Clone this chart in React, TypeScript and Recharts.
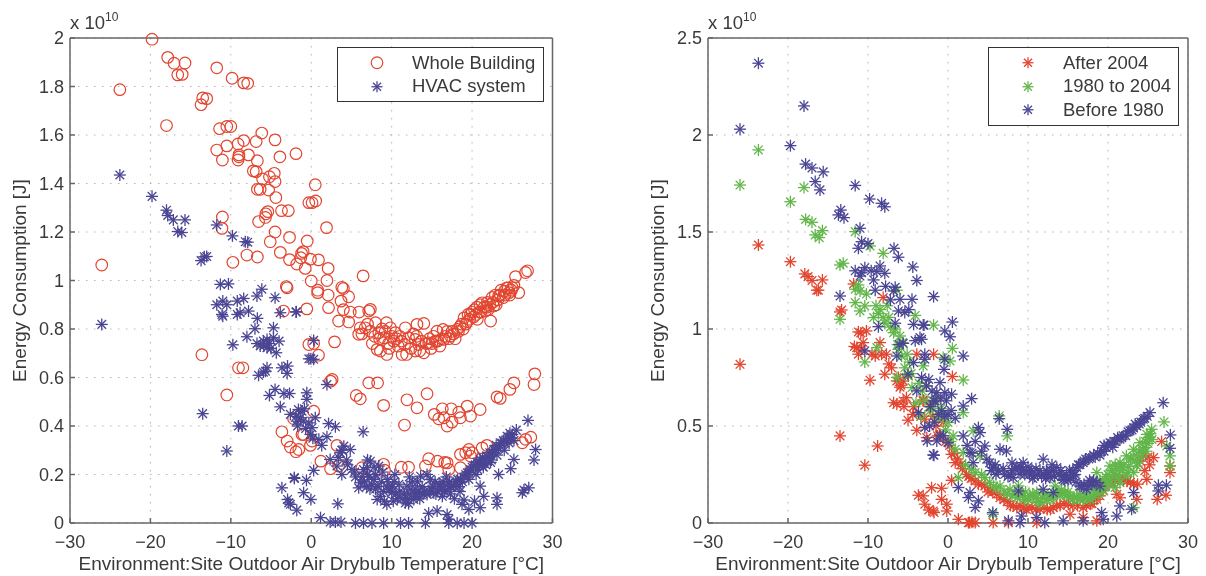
import { ScatterChart, Scatter, XAxis, YAxis, CartesianGrid, Legend } from "recharts";

// energy values are in units of 1e10 J, as on the axes. each point is [temperature, energy]
const xTicks = [-30, -20, -10, 0, 10, 20, 30];
const leftYTicks = [0, 0.2, 0.4, 0.6, 0.8, 1, 1.2, 1.4, 1.6, 1.8, 2];
const rightYTicks = [0, 0.5, 1, 1.5, 2, 2.5];
const xLabel = "Environment:Site Outdoor Air Drybulb Temperature [°C]";
const yLabel = "Energy Consumption [J]";

const wholeBuilding = [
  [-19.8,1.995],[-23.8,1.787],[-17.85,1.92],[-17.06,1.896],[-15.7,1.897],[-16.6,1.848],[-16.05,1.85],[-11.75,1.877],
  [-9.84,1.834],[-8.4,1.815],[-7.9,1.813],[-13.5,1.753],[-13,1.75],[-13.7,1.725],[-18,1.639],[-11.4,1.626],
  [-10.5,1.635],[-10,1.635],[-6.15,1.608],[-4.5,1.58],[-6.85,1.573],[-8.4,1.577],[-9.1,1.563],[-10.5,1.555],
  [-11.75,1.538],[-11.05,1.497],[-9,1.518],[-9,1.51],[-9.1,1.497],[-7.8,1.518],[-6.7,1.494],[-3.9,1.51],
  [-1.9,1.523],[-7.2,1.452],[-6.85,1.449],[-4.6,1.442],[-6.05,1.419],[-5.2,1.428],[-4.5,1.408],[-6.7,1.376],
  [-6.35,1.376],[-5.3,1.373],[-4.4,1.342],[-5.4,1.284],[-5.65,1.275],[-5.7,1.26],[-6.55,1.243],[-3.7,1.288],
  [-2.85,1.288],[-11.05,1.262],[-11.1,1.215],[-4.5,1.2],[-2.7,1.178],[-5.1,1.16],[-3.85,1.116],[-2.7,1.086],
  [-1.8,1.068],[-1.2,1.112],[-8,1.105],[-6.7,1.097],[-9.75,1.075],[-26.05,1.064],[-3,0.97],
  [0.5,1.395],[-0.3,1.321],[0.1,1.321],[0.55,1.328],[1.9,1.218],[-0.5,1.163],[-1,1.119],[-1.3,1.094],
  [-0.1,1.088],[0.9,1.085],[-0.75,1.05],[2.1,1.05],[0,0.998],[1.95,1],[3.8,0.972],[4,0.967],[6.45,1.019],[0.8,0.96],
  [26.9,1.04],[25.4,1.016],[26.65,1.033],[-3.1,0.975],
  // upper band
  [0.8,0.95],[2.1,0.94],[3.7,0.915],[4.65,0.933],[2.15,0.888],[4,0.88],[4.85,0.87],[5.95,0.87],[7.35,0.881],[7.15,0.874],
  [3.4,0.833],[4.65,0.829],[6.1,0.805],[5.9,0.778],[6.7,0.805],[8,0.826],[9.35,0.826],[9.85,0.805],[7.35,0.791],[8.4,0.785],
  [9,0.764],[10.25,0.75],[8.2,0.716],[8.6,0.709],[9.4,0.695],[11.7,0.805],[13.15,0.819],[14,0.823],[10.45,0.785],[12.1,0.764],
  [12.95,0.757],[11.3,0.695],[11.85,0.695],[12.95,0.709],[14,0.702],[11.6,0.736],[13.35,0.736],[14.6,0.743],[15.65,0.791],
  [16.4,0.798],[15.45,0.75],[16.5,0.757],[17.3,0.771],[18.15,0.798],[19,0.846],[19.8,0.86],[20.65,0.84],[21.25,0.908],
  [21.65,0.874],[22.3,0.833],[22.7,0.895],[23.3,0.936],[24,0.956],[24.6,0.95],[25.8,0.95],[7.9,0.77],[8.8,0.8],[9.6,0.74],
  [10.8,0.73],[11,0.77],[12.4,0.72],[13.7,0.75],[14.9,0.72],[15.2,0.77],[16,0.73],[16.9,0.79],[17.7,0.78],[18.5,0.81],
  [18.9,0.8],[19.4,0.83],[20,0.87],[20.3,0.88],[20.9,0.87],[21,0.9],[21.9,0.91],[22,0.88],[22.5,0.93],[23,0.9],[23.6,0.96],
  [23.9,0.93],[24.3,0.97],[24.9,0.96],[25.2,0.98],[7.6,0.74],[6.3,0.78],[10,0.77],[17.9,0.76],[20.6,0.89],[19.7,0.84],[22.9,0.94],
  [14.3,0.74],[14.7,0.76],[15,0.74],[15.7,0.75],[16.2,0.76],[16.7,0.77],[17.1,0.76],[17.5,0.79],[18.3,0.79],[18.7,0.82],[19.2,0.82],
  [19.5,0.86],[20.2,0.85],[20.5,0.86],[21.1,0.87],[21.5,0.89],[21.8,0.89],[22.2,0.9],[22.6,0.91],[23.2,0.92],[23.5,0.94],[24.1,0.94],
  [24.5,0.97],[24.7,0.94],[25,0.97],[9.2,0.79],[10.6,0.76],[11.2,0.75],[12.7,0.78],[13.1,0.77],[13.5,0.71],[8.5,0.76],[7,0.82],[9.7,0.72],
  // lower band
  [-0.55,0.883],[-0.3,0.736],[0.3,0.74],[0.9,0.692],[2.9,0.747],[2.6,0.592],[2.4,0.585],[7.15,0.578],[8.25,0.578],
  [5.6,0.526],[6.1,0.512],[9,0.485],[11.9,0.508],[13.15,0.475],[14.4,0.533],[11.6,0.404],[15.3,0.448],[16.3,0.471],
  [15.85,0.43],[16.5,0.434],[17.4,0.471],[16.9,0.4],[17.5,0.416],[18.35,0.457],[19.4,0.482],[18.55,0.434],[19.8,0.441],
  [21,0.468],[23.1,0.52],[23.5,0.514],[24.7,0.551],[25.2,0.578],[27.8,0.615],[27.7,0.571],[0.3,0.461],[-2.2,0.431],
  [-0.95,0.365],[-3.65,0.376],[-3,0.338],[-2.6,0.313],[-1.55,0.303],[-0.1,0.32],[0.1,0.338],[1.2,0.255],[2.4,0.224],
  [3.4,0.235],[3.2,0.32],[6.3,0.228],[9,0.242],[9.1,0.218],[11.2,0.23],[12.1,0.23],[14.2,0.235],[14.6,0.265],[15.7,0.255],
  [16.9,0.248],[17.1,0.221],[18.55,0.228],[18.55,0.283],[19.6,0.303],[19.8,0.276],[21.25,0.31],[21.85,0.32],[26.25,0.331],
  [27.3,0.354],[26.65,0.345],[-13.6,0.694],[-9.05,0.64],[-8.5,0.64],[-10.5,0.528],[-3.45,0.874],[-1.9,0.294],[-1.15,0.365],
  [16.6,0.25],[19.2,0.29],[20,0.29],
];

const hvacSystem = [
  [-23.8,1.435],[-19.8,1.347],[-18,1.29],[-17.85,1.268],[-17.15,1.25],[-15.7,1.25],[-16.6,1.202],[-16.1,1.198],[-11.75,1.229],
  [-9.8,1.184],[-8.2,1.16],[-7.9,1.158],[-13.3,1.098],[-13.7,1.082],[-13,1.099],[-11.3,0.984],[-10.3,0.986],[-6.15,0.964],
  [-26.05,0.819],[-13.5,0.451],[-10.5,0.297],[-9.05,0.4],[-8.6,0.4],[-9.75,0.735],[-11.75,0.9],[-11,0.915],[-10.5,0.9],
  [-11.1,0.86],[-11,0.853],[-9.2,0.915],[-8.4,0.926],[-9.2,0.86],[-8.85,0.867],[-7.8,0.874],[-6.75,0.936],[-4.5,0.929],
  [-3.85,0.867],[-1.9,0.87],[-6.7,0.844],[-7,0.801],[-4.7,0.805],[-8,0.768],[-6.75,0.74],[-5.95,0.75],[-5.5,0.757],[-4.7,0.764],
  [-6.35,0.73],[-5.5,0.723],[-4.35,0.702],[-6.55,0.609],[-5.95,0.622],[-5.5,0.64],[-5.7,0.626],[-3.65,0.64],[-2.95,0.647],
  [-3,0.617],[-5.2,0.526],[-4.5,0.551],[-3.4,0.534],[-2.7,0.534],[-3.85,0.479],[-2.6,0.448],[-1.6,0.468],[-1.8,0.42],
  [-2.1,0.184],[-3.65,0.145],[-2.95,0.097],[-2.6,0.077],[-1.8,0.053],
  [-1.85,0.871],[0.3,0.753],[-0.05,0.677],[-0.3,0.677],[0.3,0.675],[1.95,0.571],[-0.55,0.537],[-0.55,0.51],[-0.85,0.471],
  [-1.15,0.461],[-1.35,0.434],[0.5,0.434],[-0.3,0.413],[0.1,0.393],[2.15,0.41],[3,0.397],[6.45,0.376],[-0.1,0.365],[1.95,0.356],
  [0.95,0.345],[4.05,0.317],[4.85,0.303],[3.6,0.29],[2.35,0.262],[3.2,0.235],[3.8,0.2],[5.05,0.221],[7.35,0.255],[6.95,0.228],
  [8.4,0.235],[6.1,0.166],[5.9,0.145],[0.3,0.217],[-2.1,0.187],[-0.6,0.176],[-0.95,0.125],[-0.05,0.097],[-2.8,0.083],[3.3,0.079],
  [1.15,0.022],[2.35,0.004],[3,0.004],[3.7,0.004],[5.5,0],[6.5,0],[7.55,0],[9,0],[11.1,0],[12.1,0],[14.2,0],[17.1,0],[18.15,0],
  [19,0],[20,0],[16.9,0.035],[17.1,0.015],[14.6,0.04],[15.65,0.05],[19.6,0.056],[18.75,0.077],[21,0.063],[21.45,0.11],[23.1,0.104],
  [23.1,0.077],[21,0.152],[26.25,0.125],[27.05,0.145],[26.45,0.136],[27.7,0.26],[27.9,0.303],[25.2,0.262],[24.8,0.224],[23.3,0.2],
  [26.95,0.423],[25.5,0.383],
  // main band
  [8.6,0.11],[9.4,0.152],[9.4,0.077],[8.2,0.097],[10,0.125],[11.9,0.152],[11.7,0.083],[12.75,0.097],[13.6,0.193],[14.4,0.2],
  [13.15,0.11],[14.4,0.118],[15.25,0.125],[16.05,0.152],[16.9,0.138],[17.7,0.152],[18.55,0.18],[19.4,0.207],[20.2,0.235],[21,0.262],
  [21.85,0.276],[22.7,0.303],[23.5,0.331],[24.35,0.358],[25,0.365],[18.5,0.13],[19,0.095],[7,0.2],[7.5,0.16],[8,0.14],[9,0.13],
  [10.3,0.17],[10.7,0.1],[11,0.13],[12.3,0.12],[13,0.14],[13.9,0.12],[15,0.14],[15.7,0.13],[16.4,0.17],[17.2,0.17],[18,0.17],[19,0.19],
  [19.8,0.22],[20.6,0.25],[21.3,0.27],[22.2,0.29],[22.4,0.26],[23,0.32],[23.9,0.34],[24.6,0.33],[21.7,0.24],[20.7,0.22],[5.5,0.19],
  [6.3,0.19],[4.4,0.26],[12.6,0.17],[17.8,0.1],[16.3,0.11],[20.3,0.09],
  [6.6,0.17],[6.9,0.15],[7.2,0.19],[7.8,0.18],[8.3,0.15],[8.7,0.17],[9.1,0.09],[9.7,0.14],[10.1,0.15],[10.5,0.12],[11.3,0.1],[11.6,0.12],
  [12,0.1],[12.4,0.14],[12.9,0.12],[13.4,0.13],[13.8,0.15],[14.1,0.13],[14.7,0.13],[15.1,0.15],[15.5,0.12],[15.9,0.16],[16.2,0.14],[16.6,0.13],
  [17,0.16],[17.4,0.15],[17.9,0.16],[18.2,0.18],[18.8,0.17],[19.2,0.2],[19.6,0.21],[20,0.23],[20.4,0.24],[20.9,0.25],[21.1,0.24],[21.6,0.26],
  [22,0.27],[22.5,0.29],[22.9,0.3],[23.3,0.31],[23.7,0.33],[24.1,0.33],[24.5,0.35],[24.9,0.35],[-4,0.75],[-5.2,0.74],[-5.9,0.73],[-5,0.72],
  [-1,0.42],[-1.7,0.4],[-0.7,0.39],[0.2,0.35],[-1.9,0.44],[1.3,0.32],[3.8,0.3],[3.4,0.27],[4.5,0.24],[5.4,0.21],[7,0.26],[7.8,0.23],[8,0.2],
  [9.5,0.18],[10.4,0.2],[10.9,0.16],[12.2,0.19],[13.2,0.17],[14.8,0.18],[15.4,0.17],[16.8,0.19],[17.3,0.12],[18.4,0.15],[19.6,0.18],[20.5,0.2],
  [21.4,0.23],[22.3,0.25],[23.1,0.28],[24,0.3],[24.7,0.37],[25.2,0.34],[10.2,0.09],[12.1,0.08],[13.5,0.1],[6.5,0.22],[7.3,0.14],[8.9,0.21],
];

const after2004 = [
  [-23.7,1.433],[-19.7,1.347],[-17.9,1.284],[-17.5,1.27],[-17,1.25],[-15.7,1.253],[-16.4,1.2],[-11.8,1.232],[-16.2,1.2],[-8.1,1.162],
  [-13.3,1.098],[-13.5,1.088],[-26,0.818],[-13.5,0.449],[-10.4,0.298],[-8.8,0.397],[-11.2,0.985],[-10.2,0.99],[-11.4,0.904],
  [-10.8,0.896],[-11.2,0.87],[-9.1,0.861],[-8.5,0.93],[-7.7,0.87],[-7.05,0.8],[-7.9,0.767],[-9.75,0.736],[-6.4,0.732],[-5.6,0.732],
  [-4.95,0.758],[-6.4,0.612],[-5.6,0.629],[-5.2,0.646],[-3.1,0.634],[-5,0.53],[-2.9,0.535],[-3.9,0.478],[-3.9,0.87],[-1.8,0.87],
  [-2.05,0.182],[-3.7,0.143],[-2.9,0.097],[-2.4,0.067],[-1.75,0.054],[-1.3,0.449],[-2.65,0.44],[-0.8,0.179],[0.45,0.22],[0.55,0.755],
  [-3.1,0.629],[-1,0.457],[0.45,0.354],[0.9,0.311],[2.3,0.251],[3.4,0.217],[4.6,0.191],[6.1,0.148],[8.15,0.088],[9.4,0.079],[11.5,0.071],
  [13.15,0.079],[15.05,0.097],[16.9,0.079],[18.6,0.122],[20.25,0.208],[21.5,0.225],[23.2,0.2],[24.85,0.225],[24,0.32],[25.7,0.337],
  [24.4,0.346],[26.7,0.42],[27.75,0.294],[27.75,0.26],[27.25,0.143],[26.15,0.122],[21.1,0.148],[23.6,0.122],[-3.1,0.14],[-1.85,0.062],
  [-0.15,0.097],[-0.15,0.062],[-0.8,0.122],[1.3,0.019],[2.55,0.002],[3.4,0.002],[5.65,0.002],[7.55,0.002],[11.1,0.002],[15.25,0.045],
  [16.9,0.028],[18.6,0.011],[21.5,0.13],[2.7,0.002],[3,0.004],[7,0.12],[10,0.08],[12.4,0.07],[14,0.09],[17.8,0.1],[19.4,0.17],[20.8,0.22],
  [22.4,0.215],[1.6,0.3],[5.3,0.17],
  [-6,0.7],[-6.8,0.62],[-5.5,0.6],[-5.9,0.71],[-6.2,0.75],[-4.4,0.56],[-4.3,0.6],[-3.4,0.55],[-2.3,0.6],[-1.9,0.55],[-1.5,0.5],[-0.6,0.52],
  [-0.3,0.42],[0.2,0.4],[0.8,0.36],[1.2,0.33],[1.8,0.28],[2.6,0.24],[2.9,0.23],[3.8,0.2],[4.2,0.2],[5,0.16],[5.6,0.16],[6.5,0.13],[7.4,0.11],
  [7.8,0.09],[8.6,0.08],[9,0.09],[9.8,0.07],[10.5,0.08],[11,0.07],[12,0.08],[12.8,0.07],[13.6,0.09],[14.5,0.1],[15.6,0.09],[16.2,0.09],[17.3,0.09],
  [18,0.1],[18.3,0.12],[19,0.14],[19.7,0.19],[20.5,0.21],[21.2,0.22],[21.9,0.22],[22.8,0.21],[23.7,0.2],[24.6,0.27],[25.2,0.3],[25,0.34],
  [-8.3,0.87],[-9.5,0.87],[-7.4,0.82],[-10.6,0.93],[-11.7,0.91],[-10.9,0.98],
];

const from1980To2004 = [
  [-23.7,1.923],[-26,1.742],[-18,1.729],[-19.7,1.656],[-17.8,1.565],[-17,1.55],[-15.7,1.507],[-16.6,1.485],[-16.1,1.471],[-11.6,1.502],
  [-9.75,1.428],[-8.1,1.39],[-13.5,1.33],[-13.1,1.339],[-11.2,1.227],[-11.6,1.205],[-11,1.196],[-10.2,1.18],[-11.6,1.136],[-10.4,1.119],
  [-11,1.093],[-13.5,1.05],[-6.4,1.2],[-4.1,1.07],[-8.5,1.1],[-9.3,1.059],[-8.1,1.059],[-6.8,0.981],[-6,0.964],[-1.8,1.02],[-8.9,0.904],
  [-10.4,0.83],[-6.2,0.895],[-5.4,0.8],[-3.1,0.81],[-4.5,0.698],[-2.25,0.578],[-1.4,0.543],[-6.4,0.75],[0.55,0.9],[0.25,0.835],[1.9,0.737],
  [-0.6,0.853],[-2.7,0.707],[0,0.518],[1.9,0.569],[3.15,0.475],[6.4,0.552],[7.4,0.449],[-0.6,0.552],[0.65,0.449],[4,0.346],[1.9,0.363],
  [2.95,0.277],[4.6,0.234],[6.5,0.191],[7.75,0.174],[9,0.157],[10.25,0.14],[11.5,0.105],[12.75,0.122],[14,0.148],[15.25,0.14],[16.5,0.122],
  [17.75,0.122],[19.4,0.165],[20.25,0.294],[21.5,0.311],[22.3,0.346],[23.2,0.38],[24,0.414],[24.85,0.457],[25.45,0.483],[27,0.521],
  [27.75,0.346],[27.75,0.294],[27.35,0.397],[21.5,0.208],[23.2,0.26],[22.3,0.243],[23.6,0.294],[19.85,0.208],[18.6,0.26],[8.8,0.191],
  [11.1,0.157],[18.2,0.174],[13.4,0.191],[23.2,0.079],[20.9,0.183],[5.6,0.045],[1.3,0.234],[8,0.14],[9.6,0.12],[11,0.13],[12,0.15],[13.2,0.14],
  [14.6,0.16],[15.8,0.13],[17,0.13],[18.8,0.15],[19,0.22],[20,0.25],[21,0.28],[22.8,0.33],[24.3,0.38],[25,0.41],[-5,0.76],[-4,0.62],[-3.4,0.55],
  [-7.2,1.01],[-5.8,0.86],[-7.6,1.12],
  [-9,1.12],[-8.7,1.08],[-7.9,1.03],[-7.4,1.06],[-6.6,1],[-6.3,0.92],[-5.7,0.93],[-5.1,0.87],[-4.8,0.83],[-4.6,0.77],[-3.6,0.72],[-3.2,0.68],[-2.9,0.63],
  [-2,0.6],[-1.6,0.64],[-0.9,0.59],[-0.3,0.48],[0.3,0.42],[0.9,0.38],[2.2,0.3],[3.4,0.26],[4.2,0.25],[5.2,0.21],[5.7,0.19],[6.1,0.18],[7,0.16],[7.4,0.15],
  [8.4,0.15],[8.7,0.13],[9.3,0.14],[10,0.12],[10.7,0.13],[11.3,0.11],[12.3,0.12],[13,0.13],[13.7,0.15],[14.3,0.15],[14.9,0.14],[15.6,0.12],[16.1,0.13],
  [16.9,0.12],[17.4,0.13],[18.1,0.13],[18.9,0.17],[19.5,0.19],[20.3,0.22],[20.7,0.25],[21.1,0.25],[21.8,0.27],[22,0.3],[22.6,0.29],[23,0.33],[23.5,0.35],
  [23.9,0.37],[24.5,0.39],[24.7,0.42],[25.2,0.44],[25.3,0.46],[20.5,0.27],[21.7,0.29],
  [9.7,0.16],[10.6,0.15],[11.8,0.13],[12.5,0.14],[13.5,0.16],[14.2,0.17],[15,0.16],[16.4,0.15],[17.3,0.15],[18.4,0.16],[19.3,0.21],[20.1,0.2],[21.3,0.23],
  [22.5,0.26],[23.7,0.31],[24.2,0.34],[24.8,0.37],[25.5,0.43],[19.7,0.24],[20.9,0.3],
];

const before1980 = [
  [-23.7,2.37],[-26,2.03],[-18,2.15],[-19.7,1.945],[-17.8,1.85],[-17,1.83],[-15.6,1.81],[-16.6,1.76],[-16,1.717],[-11.6,1.74],[-9.8,1.67],
  [-8.3,1.648],[-7.9,1.63],[-13.4,1.613],[-13.7,1.588],[-13,1.574],[-11,1.519],[-11.2,1.416],[-10.8,1.45],[-10,1.44],[-6.75,1.416],[-6.2,1.37],
  [-4.4,1.32],[-3.9,1.25],[-11.6,1.3],[-10.4,1.316],[-11,1.273],[-8.5,1.325],[-8.9,1.296],[-7.9,1.287],[-9.3,1.253],[-6.6,1.215],[-13.5,1.17],
  [-1.8,1.167],[-9.1,1.2],[-6.8,1.196],[-6,1.153],[-4.5,1.153],[-6.2,1.093],[-5.4,1.085],[-8.7,1.012],[-6.6,1.03],[-4.3,1.024],[-3.1,1.02],
  [-3.5,0.956],[-5.6,0.926],[-2.9,0.87],[-6.4,0.861],[-10.4,0.887],[-4.3,0.827],[-5,0.767],[-2.7,0.706],[-3.9,0.681],[-1.8,0.629],[-1.4,0.672],
  [-3.7,0.569],[-2.9,0.492],[-2.6,0.423],[-1.4,0.423],[-1.75,0.349],[0.55,1.036],[-3,1.02],[-0.4,0.99],[0.25,0.96],[-3.3,0.947],[1.9,0.861],
  [-0.4,0.844],[-2.9,0.844],[-0.5,0.792],[-1,0.724],[-0.4,0.672],[0.45,0.664],[2.95,0.641],[-1.6,0.629],[1.9,0.603],[0,0.56],[-0.8,0.578],
  [6.4,0.538],[7.4,0.483],[3.8,0.492],[4,0.466],[1.9,0.449],[-1,0.449],[0,0.414],[-1.85,0.351],[4.6,0.397],[2.75,0.363],[6.5,0.38],[7.3,0.371],
  [4.85,0.329],[3.15,0.311],[5.65,0.285],[7.1,0.251],[8.15,0.234],[9.4,0.311],[9.8,0.268],[9,0.251],[11.9,0.329],[11.7,0.243],[13.6,0.286],
  [12.75,0.234],[14.4,0.225],[16.1,0.286],[15.7,0.243],[16.9,0.311],[16.5,0.191],[17.75,0.337],[17.3,0.174],[19.2,0.371],[18.6,0.208],
  [20.25,0.414],[21.5,0.432],[22.75,0.475],[23.6,0.5],[24.4,0.535],[25.25,0.569],[26.9,0.62],[27.8,0.454],[27.75,0.385],[2.75,0.157],[2.55,0.131],
  [3.8,0.114],[3.4,0.08],[1.3,0.183],[26.3,0.195],[27.3,0.195],[26.3,0.165],[23.2,0.157],[21.5,0.088],[22.95,0.071],[21.1,0.036],[19.2,0.054],
  [19.4,0.019],[16.9,0.011],[14.4,0.011],[12.1,0.002],[11.1,0.028],[9.2,0.036],[9,0.002],[7.55,0.011],[5.6,0.054],[8.8,0.165],[11.9,0.174],[13.15,0.157],
  [8,0.27],[8.6,0.29],[10.4,0.27],[12.3,0.27],[13,0.3],[14.8,0.25],[15.2,0.27],[16.5,0.3],[17.2,0.33],[18.2,0.35],[18.7,0.36],[19.8,0.39],
  [20.8,0.42],[21.9,0.45],[23,0.48],[24.1,0.52],[24.9,0.55],[17.9,0.2],[19,0.19],[18.2,0.22],[7.8,0.25],[10.8,0.24],
  [5.2,0.31],[5.9,0.3],[6.3,0.27],[6.9,0.28],[7.5,0.24],[8.4,0.28],[9.1,0.29],[9.6,0.25],[10,0.29],[10.6,0.23],[11.2,0.25],[11.5,0.27],[12,0.25],[12.5,0.26],
  [13.2,0.27],[13.3,0.24],[13.9,0.25],[14.1,0.27],[14.6,0.22],[15.3,0.23],[15.6,0.27],[16,0.21],[16.3,0.3],[16.7,0.19],[17,0.32],[17.5,0.19],[17.6,0.33],[18,0.21],
  [18.4,0.34],[19,0.35],[19.5,0.37],[20,0.4],[20.5,0.41],[21,0.42],[21.2,0.44],[21.7,0.44],[22.2,0.45],[22.5,0.47],[23.2,0.49],[23.4,0.51],[23.9,0.51],[24.6,0.54],
  [-2.2,0.6],[-2,0.68],[-2.4,0.74],[-0.9,0.64],[-0.2,0.63],[-1.2,0.56],[-0.4,0.55],[0.4,0.58],[0.9,0.54],[-1.7,0.52],[-2.3,0.5],[-0.6,0.45],
  [-7.8,1.22],[-7.2,1.15],[-10.8,1.29],[-9.6,1.3],[-4.9,1.1],[-4.1,0.94],[-3.3,0.75],[-6.1,0.92],[2.4,0.4],[3,0.36],[3.4,0.42],[4.2,0.37],
  [5.4,0.27],[6,0.25],[8,0.31],[9.2,0.27],[10.2,0.25],[11,0.28],[12.2,0.23],[12.9,0.27],[14.2,0.24],[15,0.22],[15.9,0.25],[17,0.2],[17.7,0.22],[19.5,0.4],[20.6,0.39],
];

const toPoints = (rows: number[][]) => rows.map(([t, e]) => ({ t, e }));

const BLUE = "#4a4593";
const RED = "#e2452f";
const GREEN = "#62b64a";
const TEXT = "#3a3a3a";
const AXIS = "#666";
const FONT = "'Liberation Sans', Arial, sans-serif";

function starLines(cx: number, cy: number, r: number, color: string) {
  const d = r * 0.72;
  return (
    <g stroke={color} strokeWidth={1.3} fill="none">
      <line x1={cx - r} y1={cy} x2={cx + r} y2={cy} />
      <line x1={cx} y1={cy - r} x2={cx} y2={cy + r} />
      <line x1={cx - d} y1={cy - d} x2={cx + d} y2={cy + d} />
      <line x1={cx - d} y1={cy + d} x2={cx + d} y2={cy - d} />
    </g>
  );
}

const starShape = (color: string) => (props: any) => starLines(props.cx, props.cy, 6, color);
const ringShape = (color: string) => (props: any) => (
  <circle cx={props.cx} cy={props.cy} r={5.8} fill="none" stroke={color} strokeWidth={1.2} />
);

const formatTick = (v: number) => (v < 0 ? `\u2212${Math.abs(v)}` : `${v}`);

function LegendBox({ items, rowHeight }: any) {
  return (
    <div style={{ border: "1.5px solid #333", background: "#fff", padding: "3px 0", boxSizing: "border-box", fontFamily: FONT }}>
      {items.map((item: any) => (
        <div key={item.name} style={{ display: "flex", alignItems: "center", height: rowHeight, fontSize: 18.5, color: TEXT }}>
          <svg width={74} height={rowHeight} style={{ flex: "none" }}>
            {item.ring ? (
              <circle cx={39} cy={rowHeight / 2} r={5.8} fill="none" stroke={item.color} strokeWidth={1.2} />
            ) : (
              starLines(39, rowHeight / 2, 5.5, item.color)
            )}
          </svg>
          <span>{item.name}</span>
        </div>
      ))}
    </div>
  );
}

function Panel({ left, width, yMax, yTicks, legend, children }: any) {
  const tickStyle = { fontSize: 18, fill: TEXT };
  return (
    <div style={{ position: "absolute", left, top: 0, width, height: 576 }}>
      <ScatterChart
        width={width}
        height={576}
        margin={{ top: 37, right: 17, bottom: 23, left: 10 }}
        style={{ fontFamily: FONT }}
      >
        <CartesianGrid stroke="#b5b5b5" strokeDasharray="1.5 6.5" />
        <XAxis
          type="number"
          dataKey="t"
          domain={[-30, 30]}
          ticks={xTicks}
          height={30}
          tickSize={-5}
          tickMargin={17}
          tickFormatter={formatTick}
          tick={tickStyle}
          stroke={AXIS}
          strokeWidth={1.5}
          interval={0}
          label={{ value: xLabel, position: "bottom", offset: 4, style: { fontSize: 19, fill: TEXT, textAnchor: "middle" } }}
        />
        <XAxis
          xAxisId="top"
          orientation="top"
          type="number"
          domain={[-30, 30]}
          ticks={xTicks}
          height={1}
          tickSize={-5}
          tickFormatter={() => ""}
          stroke={AXIS}
          strokeWidth={1.5}
          interval={0}
        />
        <YAxis
          type="number"
          dataKey="e"
          domain={[0, yMax]}
          ticks={yTicks}
          width={60}
          tickSize={-5}
          tickMargin={11}
          tick={tickStyle}
          stroke={AXIS}
          strokeWidth={1.5}
          interval={0}
          label={{ value: yLabel, angle: -90, position: "insideLeft", offset: 9, style: { fontSize: 19, fill: TEXT, textAnchor: "middle" } }}
        />
        <YAxis
          yAxisId="right"
          orientation="right"
          type="number"
          domain={[0, yMax]}
          ticks={yTicks}
          width={1}
          tickSize={-5}
          tickFormatter={() => ""}
          stroke={AXIS}
          strokeWidth={1.5}
          interval={0}
        />
        <Legend
          layout="vertical"
          align="center"
          verticalAlign="middle"
          wrapperStyle={legend.style}
          content={() => <LegendBox items={legend.items} rowHeight={legend.rowHeight} />}
        />
        {children}
      </ScatterChart>
      <div style={{ position: "absolute", left: 70, top: 13, fontSize: 18.5, lineHeight: "20px", color: TEXT, fontFamily: FONT, whiteSpace: "nowrap" }}>
        x 10<sup style={{ fontSize: 12, lineHeight: 0, verticalAlign: "8px" }}>10</sup>
      </div>
    </div>
  );
}

const leftLegend = [
  { name: "Whole Building", color: RED, ring: true },
  { name: "HVAC system", color: BLUE },
];
const rightLegend = [
  { name: "After 2004", color: RED },
  { name: "1980 to 2004", color: GREEN },
  { name: "Before 1980", color: BLUE },
];

export default function App() {
  return (
    <div style={{ position: "absolute", left: 0, top: 0, width: 1206, height: 576, background: "#fff", overflow: "hidden", filter: "blur(0.35px)" }}>
      <Panel
        left={0}
        width={570.5}
        yMax={2}
        yTicks={leftYTicks}
        legend={{ rowHeight: 23.5, items: leftLegend, style: { left: 337, top: 47, width: 207, height: "auto" } }}
      >
        <Scatter name="Whole Building" data={toPoints(wholeBuilding)} stroke={RED} fill="none" shape={ringShape(RED)} isAnimationActive={false} />
        <Scatter name="HVAC system" data={toPoints(hvacSystem)} stroke={BLUE} fill="none" shape={starShape(BLUE)} isAnimationActive={false} />
      </Panel>
      <Panel
        left={638}
        width={568}
        yMax={2.5}
        yTicks={rightYTicks}
        legend={{ rowHeight: 23.5, items: rightLegend, style: { left: 350, top: 47, width: 191, height: "auto" } }}
      >
        <Scatter name="After 2004" data={toPoints(after2004)} stroke={RED} fill="none" shape={starShape(RED)} isAnimationActive={false} />
        <Scatter name="1980 to 2004" data={toPoints(from1980To2004)} stroke={GREEN} fill="none" shape={starShape(GREEN)} isAnimationActive={false} />
        <Scatter name="Before 1980" data={toPoints(before1980)} stroke={BLUE} fill="none" shape={starShape(BLUE)} isAnimationActive={false} />
      </Panel>
    </div>
  );
}
